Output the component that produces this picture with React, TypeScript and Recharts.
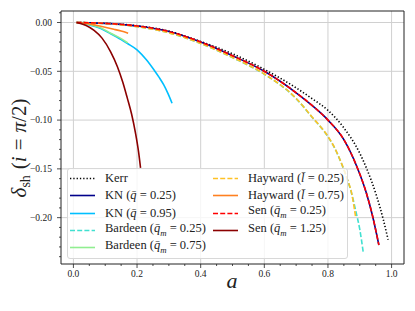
import React from "react";
import { LineChart, Line, XAxis, YAxis, ReferenceLine } from "recharts";

type Pt = { a: number; d: number };

// values (a, delta_sh)
const kerr: Pt[] = [
  { a: 0.01, d: 0 }, { a: 0.1, d: -0.0008 }, { a: 0.2, d: -0.0033 }, { a: 0.3, d: -0.0088 },
  { a: 0.4, d: -0.0195 }, { a: 0.5, d: -0.032 }, { a: 0.6, d: -0.048 }, { a: 0.7, d: -0.067 },
  { a: 0.75, d: -0.078 }, { a: 0.8, d: -0.09 }, { a: 0.85, d: -0.108 }, { a: 0.9, d: -0.134 },
  { a: 0.922, d: -0.15 }, { a: 0.953, d: -0.178 }, { a: 0.974, d: -0.202 }, { a: 0.989, d: -0.2226 },
];
const kn025: Pt[] = [
  { a: 0.01, d: 0 }, { a: 0.1, d: -0.0009 }, { a: 0.2, d: -0.0036 }, { a: 0.3, d: -0.0092 },
  { a: 0.4, d: -0.02 }, { a: 0.5, d: -0.034 }, { a: 0.6, d: -0.05 }, { a: 0.7, d: -0.072 },
  { a: 0.75, d: -0.085 }, { a: 0.8, d: -0.1 }, { a: 0.85, d: -0.12 }, { a: 0.89, d: -0.147 },
  { a: 0.92, d: -0.174 }, { a: 0.94, d: -0.198 }, { a: 0.96, d: -0.228 },
];
const kn095: Pt[] = [
  { a: 0.01, d: 0 }, { a: 0.05, d: -0.0025 }, { a: 0.086, d: -0.0062 }, { a: 0.117, d: -0.0115 },
  { a: 0.15, d: -0.0175 }, { a: 0.17, d: -0.0215 }, { a: 0.2, d: -0.028 }, { a: 0.23, d: -0.0385 },
  { a: 0.253, d: -0.0485 }, { a: 0.27, d: -0.0565 }, { a: 0.284, d: -0.064 }, { a: 0.297, d: -0.0727 },
  { a: 0.31, d: -0.0828 },
];
const bardeen025: Pt[] = [
  { a: 0.01, d: 0 }, { a: 0.1, d: -0.001 }, { a: 0.2, d: -0.0042 }, { a: 0.3, d: -0.0105 },
  { a: 0.4, d: -0.0215 }, { a: 0.5, d: -0.036 }, { a: 0.6, d: -0.053 }, { a: 0.7, d: -0.078 },
  { a: 0.75, d: -0.097 }, { a: 0.8, d: -0.117 }, { a: 0.82, d: -0.128 }, { a: 0.84, d: -0.1425 },
  { a: 0.86, d: -0.16 }, { a: 0.875, d: -0.176 }, { a: 0.888, d: -0.194 }, { a: 0.9, d: -0.212 },
  { a: 0.911, d: -0.2356 },
];
const bardeen075: Pt[] = [
  { a: 0.01, d: 0 }, { a: 0.05, d: -0.002 }, { a: 0.086, d: -0.0055 }, { a: 0.117, d: -0.011 },
  { a: 0.15, d: -0.0165 }, { a: 0.171, d: -0.021 },
];
const hayward025: Pt[] = [
  { a: 0.01, d: 0 }, { a: 0.1, d: -0.001 }, { a: 0.2, d: -0.0042 }, { a: 0.3, d: -0.0105 },
  { a: 0.4, d: -0.0214 }, { a: 0.5, d: -0.0358 }, { a: 0.6, d: -0.0528 }, { a: 0.7, d: -0.0778 },
  { a: 0.75, d: -0.0968 }, { a: 0.8, d: -0.1168 }, { a: 0.82, d: -0.1278 }, { a: 0.84, d: -0.1423 },
  { a: 0.86, d: -0.1598 }, { a: 0.875, d: -0.1758 }, { a: 0.887, d: -0.1995 },
];
const hayward075: Pt[] = [
  { a: 0.01, d: 0 }, { a: 0.05, d: -0.0014 }, { a: 0.086, d: -0.0038 }, { a: 0.127, d: -0.0069 },
  { a: 0.15, d: -0.0088 }, { a: 0.172, d: -0.011 },
];
const sen025: Pt[] = [
  { a: 0.01, d: 0 }, { a: 0.1, d: -0.0009 }, { a: 0.2, d: -0.0036 }, { a: 0.3, d: -0.0092 },
  { a: 0.4, d: -0.02 }, { a: 0.5, d: -0.034 }, { a: 0.6, d: -0.05 }, { a: 0.7, d: -0.072 },
  { a: 0.75, d: -0.085 }, { a: 0.8, d: -0.1 }, { a: 0.85, d: -0.12 }, { a: 0.89, d: -0.147 },
  { a: 0.92, d: -0.174 }, { a: 0.94, d: -0.198 }, { a: 0.96, d: -0.228 },
];
const sen125: Pt[] = [
  { a: 0.01, d: 0 }, { a: 0.04, d: -0.003 }, { a: 0.065, d: -0.008 }, { a: 0.09, d: -0.016 },
  { a: 0.117, d: -0.03 }, { a: 0.138, d: -0.045 }, { a: 0.155, d: -0.061 }, { a: 0.169, d: -0.077 },
  { a: 0.183, d: -0.094 }, { a: 0.195, d: -0.113 }, { a: 0.205, d: -0.133 }, { a: 0.211, d: -0.149 },
];

const X_MAJOR = [0, 0.2, 0.4, 0.6, 0.8, 1.0];
const Y_MAJOR = [0, -0.05, -0.1, -0.15, -0.2];
const X_DOMAIN: [number, number] = [-0.039, 1.039];
const Y_DOMAIN: [number, number] = [-0.2475, 0.0118];

// minor ticks every 0.05 on x, 0.01 on y
const X_TICKS: number[] = [];
for (let i = 0; i <= 20; i++) X_TICKS.push(Math.round(i * 5) / 100);
const Y_TICKS: number[] = [];
for (let i = 1; i >= -24; i--) Y_TICKS.push(i / 100);

const SERIF = "'Liberation Serif', 'Times New Roman', Times, serif";
const INK = "#222";

const isMajor = (arr: number[], v: number) => arr.some((m) => Math.abs(m - v) < 1e-9);
const fmtY = (v: number) => (v < 0 ? "\u2212" + Math.abs(v).toFixed(2) : v.toFixed(2));

const XTick = (props: any) => {
  const { x, y, payload } = props;
  const major = isMajor(X_MAJOR, payload.value);
  return (
    <g>
      <line x1={x} x2={x} y1={y} y2={y + (major ? 4 : 2)} stroke={INK} strokeWidth={0.8} />
      {major && (
        <text x={x} y={y + 13} textAnchor="middle" fontSize={9.5} style={{ fontFamily: SERIF }} fill={INK}>
          {payload.value.toFixed(1)}
        </text>
      )}
    </g>
  );
};

const YTick = (props: any) => {
  const { x, y, payload } = props;
  const major = isMajor(Y_MAJOR, payload.value);
  return (
    <g>
      <line x1={x} x2={x - (major ? 4 : 2)} y1={y} y2={y} stroke={INK} strokeWidth={0.8} />
      {major && (
        <text x={x - 9} y={y + 3.3} textAnchor="end" fontSize={9.5} style={{ fontFamily: SERIF }} fill={INK}>
          {fmtY(payload.value)}
        </text>
      )}
    </g>
  );
};

type Entry = { label: React.ReactNode; color: string; dash?: string };

const qbar = <i>q&#772;</i>;
const qm = (
  <>
    <i>q&#772;</i>
    <sub style={{ fontSize: "0.7em", fontStyle: "italic" }}>m</sub>
  </>
);
const lbar = <i>l&#772;</i>;

const LEFT: Entry[] = [
  { label: "Kerr", color: "#000", dash: "1.3 2" },
  { label: <>KN ({qbar} = 0.25)</>, color: "#00008b" },
  { label: <>KN ({qbar} = 0.95)</>, color: "#00bfff" },
  { label: <>Bardeen ({qm} = 0.25)</>, color: "#40e0d0", dash: "5 2.2" },
  { label: <>Bardeen ({qm} = 0.75)</>, color: "#90ee90" },
];
const RIGHT: Entry[] = [
  { label: <>Hayward ({lbar} = 0.25)</>, color: "#ffc125", dash: "5 2.2" },
  { label: <>Hayward ({lbar} = 0.75)</>, color: "#ff8020" },
  { label: <>Sen ({qm} = 0.25)</>, color: "#ff0000", dash: "5 2.2" },
  { label: <>Sen ({qm} = 1.25)</>, color: "#8b0000" },
];

const LegendCol = ({ items, left }: { items: Entry[]; left: number }) => (
  <>
    {items.map((it, i) => (
      <div
        key={i}
        style={{ position: "absolute", left, top: 0.8 + i * 17.35, height: 17, display: "flex", alignItems: "center", whiteSpace: "nowrap" }}
      >
        <svg width={26} height={17} style={{ marginRight: 9 }}>
          <line x1={0} x2={25} y1={8.5} y2={8.5} stroke={it.color} strokeWidth={1.6} strokeDasharray={it.dash} />
        </svg>
        <span style={{ fontFamily: SERIF, fontSize: 12.5, color: INK, lineHeight: "17px" }}>{it.label}</span>
      </div>
    ))}
  </>
);

export default function App() {
  const lw = 1.6;
  return (
    <div style={{ position: "absolute", left: 0, top: 0, width: 415, height: 311, background: "#fff" }}>
      <LineChart width={415} height={311} margin={{ top: 11, right: 11, bottom: 0, left: 0 }}>
        <XAxis
          dataKey="a"
          type="number"
          domain={X_DOMAIN}
          allowDataOverflow
          ticks={X_TICKS}
          interval={0}
          tickSize={0}
          tickMargin={0}
          tickLine={false}
          tick={<XTick />}
          height={47}
          axisLine={{ stroke: INK, strokeWidth: 1 }}
        />
        <YAxis
          dataKey="d"
          type="number"
          domain={Y_DOMAIN}
          allowDataOverflow
          ticks={Y_TICKS}
          interval={0}
          tickSize={0}
          tickMargin={0}
          tickLine={false}
          tick={<YTick />}
          width={61}
          axisLine={{ stroke: INK, strokeWidth: 1 }}
        />
        {X_MAJOR.map((v) => (
          <ReferenceLine key={"gx" + v} x={v} stroke="#d0d0d0" strokeWidth={1} />
        ))}
        {Y_MAJOR.map((v) => (
          <ReferenceLine key={"gy" + v} y={v} stroke="#d0d0d0" strokeWidth={1} />
        ))}
        <ReferenceLine y={Y_DOMAIN[1]} stroke={INK} strokeWidth={1} ifOverflow="visible" />
        <ReferenceLine x={X_DOMAIN[1]} stroke={INK} strokeWidth={1} ifOverflow="visible" />
        <Line data={kerr} dataKey="d" type="monotone" stroke="#000" strokeWidth={lw} strokeDasharray="1.3 2" dot={false} isAnimationActive={false} />
        <Line data={kn025} dataKey="d" type="monotone" stroke="#00008b" strokeWidth={lw} dot={false} isAnimationActive={false} />
        <Line data={kn095} dataKey="d" type="monotone" stroke="#00bfff" strokeWidth={lw} dot={false} isAnimationActive={false} />
        <Line data={bardeen025} dataKey="d" type="monotone" stroke="#40e0d0" strokeWidth={lw} strokeDasharray="5 2.2" dot={false} isAnimationActive={false} />
        <Line data={bardeen075} dataKey="d" type="monotone" stroke="#90ee90" strokeWidth={lw} dot={false} isAnimationActive={false} />
        <Line data={hayward025} dataKey="d" type="monotone" stroke="#ffc125" strokeWidth={lw} strokeDasharray="5 2.2" dot={false} isAnimationActive={false} />
        <Line data={hayward075} dataKey="d" type="monotone" stroke="#ff8020" strokeWidth={lw} dot={false} isAnimationActive={false} />
        <Line data={sen025} dataKey="d" type="monotone" stroke="#ff0000" strokeWidth={lw} strokeDasharray="5 2.2" dot={false} isAnimationActive={false} />
        <Line data={sen125} dataKey="d" type="monotone" stroke="#8b0000" strokeWidth={lw} dot={false} isAnimationActive={false} />
      </LineChart>

      <svg width={415} height={311} style={{ position: "absolute", left: 0, top: 0, pointerEvents: "none" }}>
        <text x={232} y={288} textAnchor="middle" fontSize={22} fontStyle="italic" style={{ fontFamily: SERIF }} fill={INK}>
          a
        </text>
        <text transform="translate(26 148) rotate(-90)" textAnchor="middle" fontSize={21} style={{ fontFamily: SERIF }} fill={INK}>
          <tspan fontStyle="italic">δ</tspan>
          <tspan fontSize={14} dy={4}>sh</tspan>
          <tspan dy={-4} dx={6}>(</tspan>
          <tspan fontStyle="italic">i</tspan>
          <tspan dx={6}>=</tspan>
          <tspan dx={6} fontStyle="italic">π</tspan>
          <tspan>/2)</tspan>
        </text>
      </svg>

      <div
        style={{
          position: "absolute",
          left: 67,
          top: 168,
          width: 279,
          height: 89,
          border: "1px solid #d8d8d8",
          borderRadius: 3,
          background: "rgba(255,255,255,0.8)",
        }}
      >
        <LegendCol items={LEFT} left={2} />
        <LegendCol items={RIGHT} left={145} />
      </div>
    </div>
  );
}
